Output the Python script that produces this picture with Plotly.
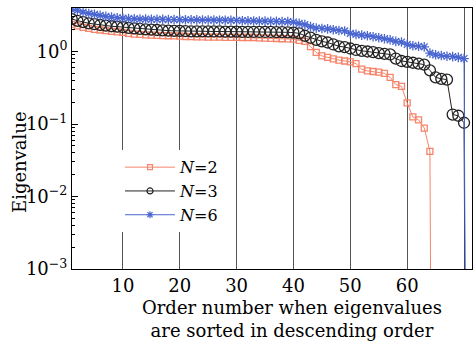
import plotly.graph_objects as go

order_n2 = list(range(1, 66))
eig_n2 = [2.37, 2.25, 2.15, 2.08, 2.02, 1.98, 1.94, 1.90, 1.87, 1.83,
          1.78, 1.74, 1.72, 1.70, 1.68, 1.67, 1.66, 1.65, 1.64, 1.63,
          1.61, 1.60, 1.59, 1.59, 1.58, 1.58, 1.58, 1.57, 1.57, 1.57,
          1.56, 1.56, 1.56, 1.54, 1.53, 1.52, 1.51, 1.50, 1.49, 1.48,
          1.42, 1.38, 1.17, 0.97, 0.87, 0.83, 0.79, 0.76, 0.74, 0.72,
          0.68, 0.57, 0.54, 0.53, 0.52, 0.50, 0.44, 0.35, 0.33, 0.195,
          0.125, 0.114, 0.088, 0.042, 1e-16]

order_n3 = list(range(1, 72))
eig_n3 = [2.80, 2.65, 2.55, 2.45, 2.38, 2.32, 2.27, 2.23, 2.20, 2.17,
          2.12, 2.08, 2.05, 2.02, 2.00, 1.98, 1.96, 1.94, 1.93, 1.92,
          1.91, 1.90, 1.90, 1.90, 1.89, 1.89, 1.89, 1.88, 1.88, 1.88,
          1.87, 1.87, 1.87, 1.86, 1.86, 1.86, 1.85, 1.85, 1.84, 1.82,
          1.78, 1.65, 1.55, 1.45, 1.38, 1.33, 1.25, 1.18, 1.15, 1.10,
          1.05, 1.02, 1.00, 0.98, 0.95, 0.93, 0.91, 0.80, 0.74, 0.72,
          0.70, 0.68, 0.66, 0.55, 0.44, 0.42, 0.41, 0.135, 0.13, 0.104,
          1e-16]

order_n6 = list(range(1, 72))
eig_n6 = [3.80, 3.70, 3.50, 3.35, 3.25, 3.15, 3.05, 2.98, 2.92, 2.88,
          2.84, 2.82, 2.80, 2.80, 2.78, 2.78, 2.77, 2.76, 2.76, 2.75,
          2.74, 2.74, 2.73, 2.72, 2.72, 2.71, 2.70, 2.70, 2.69, 2.68,
          2.66, 2.65, 2.64, 2.63, 2.62, 2.61, 2.60, 2.59, 2.58, 2.55,
          2.45, 2.35, 2.20, 2.10, 2.08, 2.05, 2.00, 1.95, 1.92, 1.78,
          1.72, 1.68, 1.65, 1.60, 1.55, 1.50, 1.45, 1.38, 1.35, 1.25,
          1.20, 1.18, 1.16, 0.95, 0.90, 0.88, 0.86, 0.85, 0.83, 0.80,
          1e-16]

x_ticks = [10, 20, 30, 40, 50, 60, 70]
y_tickvals = [1e-3, 1e-2, 1e-1, 1e0]
y_ticktext = ["10<sup>\u22123</sup>", "10<sup>\u22122</sup>", "10<sup>\u22121</sup>", "10<sup>0</sup>"]
legend_names = ["<i>N</i>=2", "<i>N</i>=3", "<i>N</i>=6"]

FONT = "DejaVu Serif"
RED = "#f5846a"
BLACK = "#222222"
BLUE = "#4a66d0"

series = [
    (order_n2, eig_n2, RED, "square-open", 6, 5),
    (order_n3, eig_n3, BLACK, "circle-open", 11, 6),
    (order_n6, eig_n6, BLUE, "asterisk-open", 8, 6),
]

fig = go.Figure()
for (xs, ys, col, sym, sz, lsz), name in zip(series, legend_names):
    fig.add_trace(go.Scatter(x=xs, y=ys, mode="lines+markers", name=name, showlegend=False,
                             line=dict(color=col, width=1),
                             marker=dict(symbol=sym, size=sz, color=col,
                                         line=dict(width=1.3, color=col))))
for (xs, ys, col, sym, sz, lsz), name in zip(series, legend_names):
    fig.add_trace(go.Scatter(x=[None], y=[None], mode="lines+markers", name=name,
                             line=dict(color=col, width=1),
                             marker=dict(symbol=sym, size=lsz, color=col,
                                         line=dict(width=1.2, color=col))))

minor_vals = [m * 10.0 ** e for e in (-3, -2, -1, 0) for m in range(2, 10)]

fig.update_layout(
    width=474, height=341,
    margin=dict(l=72, r=2, t=8, b=72),
    paper_bgcolor="white", plot_bgcolor="white",
    font=dict(family=FONT, size=18, color="black"),
    showlegend=True,
    legend=dict(x=0.12, y=0.455, xanchor="left", yanchor="top",
                bgcolor="white", borderwidth=0, font=dict(size=16),
                tracegroupgap=0, itemwidth=50),
    xaxis=dict(range=[1.05, 71.4], tickvals=x_ticks, showgrid=True,
               gridcolor="#555555", gridwidth=1, zeroline=False,
               showline=True, linecolor="black", linewidth=1, mirror=True,
               ticks="", tickfont=dict(size=18)),
    yaxis=dict(type="log", range=[-3, 0.6], tickvals=y_tickvals, ticktext=y_ticktext,
               showgrid=False, zeroline=False, showline=True, linecolor="black",
               linewidth=1, mirror=True, ticks="inside", ticklen=6, tickcolor="black",
               tickfont=dict(size=18),
               minor=dict(tickvals=minor_vals, ticks="inside", ticklen=3,
                          tickcolor="black", showgrid=False)),
    annotations=[
        dict(text="Order number when eigenvalues<br>are sorted in descending order",
             xref="paper", yref="paper", x=0.55, y=-0.098, xanchor="center", yanchor="top",
             showarrow=False, font=dict(size=18), align="center"),
        dict(text="Eigenvalue", xref="paper", yref="paper", x=-0.13, y=0.41,
             xanchor="center", yanchor="middle", textangle=-90, showarrow=False,
             font=dict(size=18)),
    ],
)

fig.write_html("out.html")
